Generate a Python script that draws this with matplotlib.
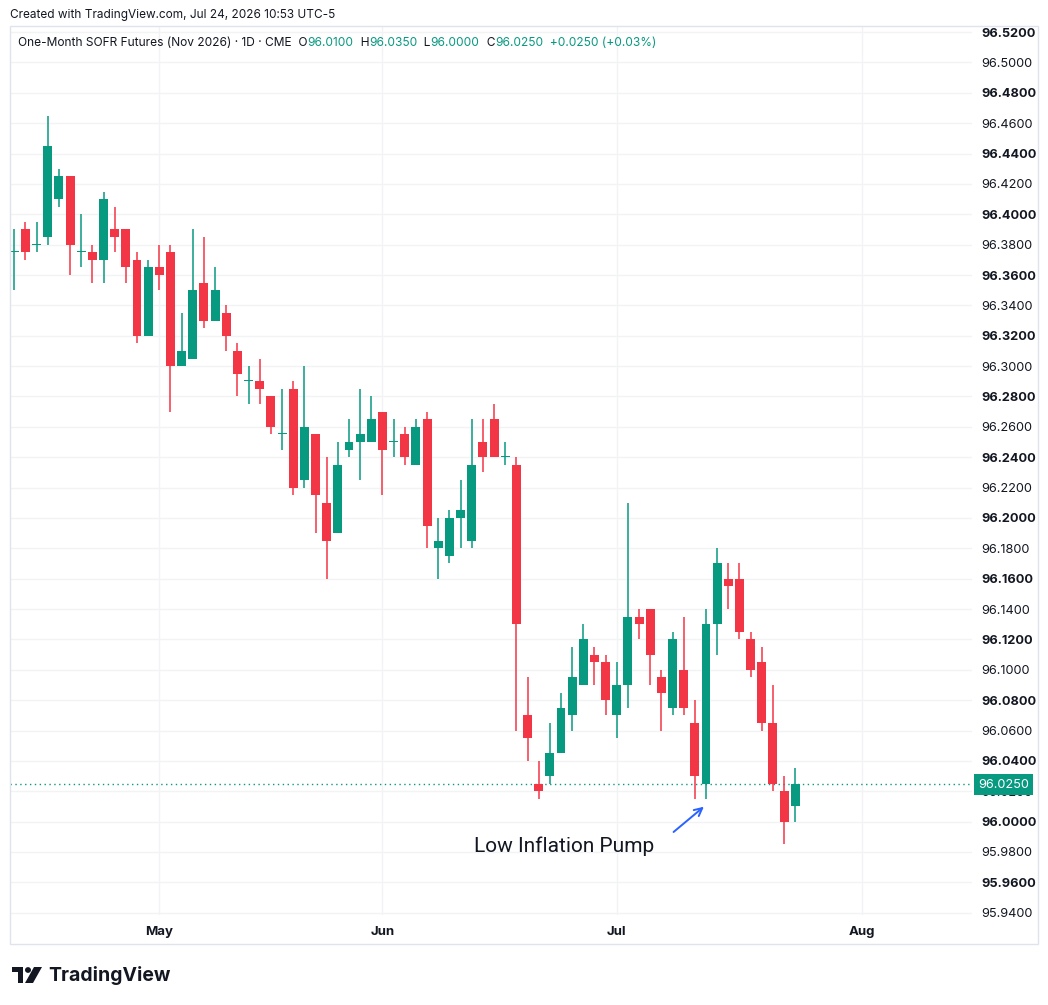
import numpy as np
import pandas as pd
import matplotlib
matplotlib.use("Agg")
import matplotlib.pyplot as plt
from matplotlib.patches import Rectangle, Polygon, Circle

# daily candles, Apr 14 - Jul 24 2026
opens = [96.375, 96.39, 96.38, 96.385, 96.41, 96.425, 96.375, 96.375, 96.37, 96.39,
         96.39, 96.37, 96.32, 96.365, 96.375, 96.30, 96.305, 96.355, 96.33, 96.335,
         96.31, 96.29, 96.29, 96.28, 96.255, 96.285, 96.225, 96.255, 96.21, 96.19,
         96.245, 96.25, 96.25, 96.27, 96.25, 96.255, 96.235, 96.265, 96.18, 96.175,
         96.20, 96.185, 96.25, 96.265, 96.24, 96.235, 96.07, 96.025, 96.03, 96.045,
         96.07, 96.09, 96.11, 96.105, 96.07, 96.09, 96.135, 96.14, 96.095, 96.075,
         96.10, 96.065, 96.025, 96.13, 96.16, 96.16, 96.12, 96.105, 96.065, 96.02,
         96.01]
highs = [96.39, 96.395, 96.395, 96.465, 96.43, 96.425, 96.40, 96.38, 96.415, 96.405,
         96.39, 96.375, 96.37, 96.38, 96.38, 96.335, 96.39, 96.385, 96.365, 96.34,
         96.315, 96.30, 96.305, 96.28, 96.285, 96.29, 96.30, 96.255, 96.24, 96.25,
         96.265, 96.285, 96.28, 96.27, 96.265, 96.26, 96.265, 96.27, 96.20, 96.205,
         96.225, 96.265, 96.265, 96.275, 96.25, 96.24, 96.095, 96.04, 96.065, 96.085,
         96.115, 96.13, 96.115, 96.11, 96.105, 96.21, 96.14, 96.14, 96.10, 96.125,
         96.135, 96.08, 96.14, 96.18, 96.17, 96.17, 96.125, 96.115, 96.09, 96.03,
         96.035]
lows = [96.35, 96.37, 96.375, 96.38, 96.405, 96.36, 96.365, 96.355, 96.355, 96.375,
        96.355, 96.315, 96.32, 96.35, 96.27, 96.30, 96.305, 96.325, 96.33, 96.31,
        96.28, 96.275, 96.275, 96.255, 96.245, 96.215, 96.22, 96.19, 96.16, 96.19,
        96.24, 96.225, 96.25, 96.215, 96.24, 96.235, 96.235, 96.18, 96.16, 96.17,
        96.18, 96.18, 96.23, 96.24, 96.235, 96.06, 96.04, 96.015, 96.025, 96.045,
        96.06, 96.09, 96.09, 96.07, 96.055, 96.075, 96.12, 96.09, 96.06, 96.07,
        96.07, 96.015, 96.015, 96.11, 96.14, 96.12, 96.095, 96.06, 96.02, 95.985,
        96.00]
closes = [96.375, 96.375, 96.38, 96.445, 96.425, 96.38, 96.375, 96.37, 96.41, 96.385,
          96.365, 96.32, 96.365, 96.36, 96.30, 96.31, 96.35, 96.33, 96.35, 96.32,
          96.295, 96.29, 96.285, 96.26, 96.255, 96.22, 96.26, 96.215, 96.185, 96.235,
          96.25, 96.255, 96.265, 96.245, 96.25, 96.24, 96.26, 96.195, 96.185, 96.20,
          96.205, 96.235, 96.24, 96.24, 96.24, 96.13, 96.055, 96.02, 96.045, 96.075,
          96.095, 96.12, 96.105, 96.08, 96.09, 96.135, 96.13, 96.11, 96.085, 96.12,
          96.075, 96.03, 96.13, 96.17, 96.155, 96.125, 96.10, 96.065, 96.025, 96.00,
          96.025]
holidays = ["2026-05-25", "2026-06-19", "2026-07-03"]
month_labels = ["May", "Jun", "Jul", "Aug"]
month_starts = ["2026-05-01", "2026-06-01", "2026-07-01", "2026-08-03"]
last_price = 96.025
note = "Low Inflation Pump"
note_bar = 62  # the bar the arrow points at

green = "#089981"
red = "#f23645"
txt = "#131722"
gridc = "#f2f3f5"

days = pd.bdate_range("2026-04-14", "2026-08-31", freq="C", holidays=holidays)
n = len(opens)
x = np.arange(n)
o = np.array(opens); h = np.array(highs); l = np.array(lows); c = np.array(closes)
up = c >= o
cols = np.where(up, green, red)

W, H = 1048, 1005
fig = plt.figure(figsize=(W/100, H/100), dpi=100)
plt.rcParams['font.family'] = ['Inter', 'DejaVu Sans']

ax = fig.add_axes([10/W, 1-915/H, (972-10)/W, (915-26)/H])
ax.set_xlim(-0.385, 85.84)
ax.set_ylim(95.9385, 96.524)

bh = np.maximum(np.abs(c-o), 0.0007)
ax.vlines(x, l, h, colors=cols, lw=1.1, zorder=2)
ax.bar(x, bh, bottom=np.minimum(o, c), width=0.8, color=cols, zorder=3, linewidth=0)

# current price
ax.axhline(last_price, color=green, lw=1, ls=(0, (1, 2.5)), zorder=1)

yt = np.round(np.arange(95.94, 96.5201, 0.02), 2)
ax.set_yticks(yt)
ax.yaxis.tick_right()
ax.set_yticklabels(["%.4f" % v for v in yt])
for v, lab in zip(yt, ax.get_yticklabels()):
    k = int(round((96.52 - v)/0.02))
    lab.set_fontweight("bold" if k % 2 == 0 else "normal")
ax.tick_params(axis="y", length=0, pad=6.5, labelsize=9.2, labelcolor=txt)

pos = [days.get_loc(pd.Timestamp(d)) for d in month_starts]
ax.set_xticks(pos)
ax.set_xticklabels(month_labels, fontweight="bold")
ax.tick_params(axis="x", length=0, pad=8, labelsize=9.5, labelcolor=txt)
ax.grid(True, color=gridc, lw=1)
ax.set_axisbelow(True)
for s in ax.spines.values():
    s.set_visible(False)

# arrow and note
ax.annotate("", xy=(note_bar, l[note_bar] - 0.004), xytext=(note_bar - 3.1, l[note_bar] - 0.023),
            arrowprops=dict(arrowstyle="->", color="#2962ff", lw=1.4, mutation_scale=14))
ax.text(note_bar - 4.6, l[note_bar] - 0.031, note, ha="right", va="center",
        fontsize=15, color=txt, family=["Roboto", "DejaVu Sans"])

# price tag
fig.text(1003.5/W, 1-784.5/H, "%.4f" % last_price, ha="center", va="center", fontsize=9.2,
         color="white", bbox=dict(boxstyle="square,pad=0.32", fc=green, ec="none"), zorder=5)

# outer frame
fig.patches.append(Rectangle((10/W, 1-944/H), (1038-10)/W, (944-26.5)/H, transform=fig.transFigure,
                             fill=False, ec="#e0e3eb", lw=1))

fig.text(10/W, 1-15/H, "Created with TradingView.com, Jul 24, 2026 10:53 UTC-5",
         fontsize=8.5, color=txt, va="center")

# header legend
parts = [("One-Month SOFR Futures (Nov 2026) \u00b7 1D \u00b7 CME  O", txt), ("96.0100", green),
         ("  H", txt), ("96.0350", green), ("  L", txt), ("96.0000", green),
         ("  C", txt), ("96.0250", green), ("  +0.0250 (+0.03%)", green)]
fig.canvas.draw()
r = fig.canvas.get_renderer()
xp = 18
for s, col in parts:
    t = fig.text(xp/W, 1-43/H, s, fontsize=8.6, color=col, va="center")
    xp = t.get_window_extent(r).x1

# logo
tf = fig.transFigure
def P(px, py):
    return (px/W, 1-py/H)
fig.patches.append(Polygon([P(12, 967), P(23, 967), P(23, 983), P(18, 983), P(18, 972), P(12, 972)],
                           closed=True, transform=tf, fc=txt, ec="none"))
fig.patches.append(Circle(P(28, 970), 3/W, transform=tf, fc=txt, ec="none"))
fig.patches.append(Polygon([P(34, 967), P(42, 967), P(33, 983), P(25, 983)],
                           closed=True, transform=tf, fc=txt, ec="none"))
fig.text(48/W, 1-975/H, "TradingView", fontsize=14, fontweight="bold", color=txt, va="center")

fig.savefig("out.png", dpi=100)
